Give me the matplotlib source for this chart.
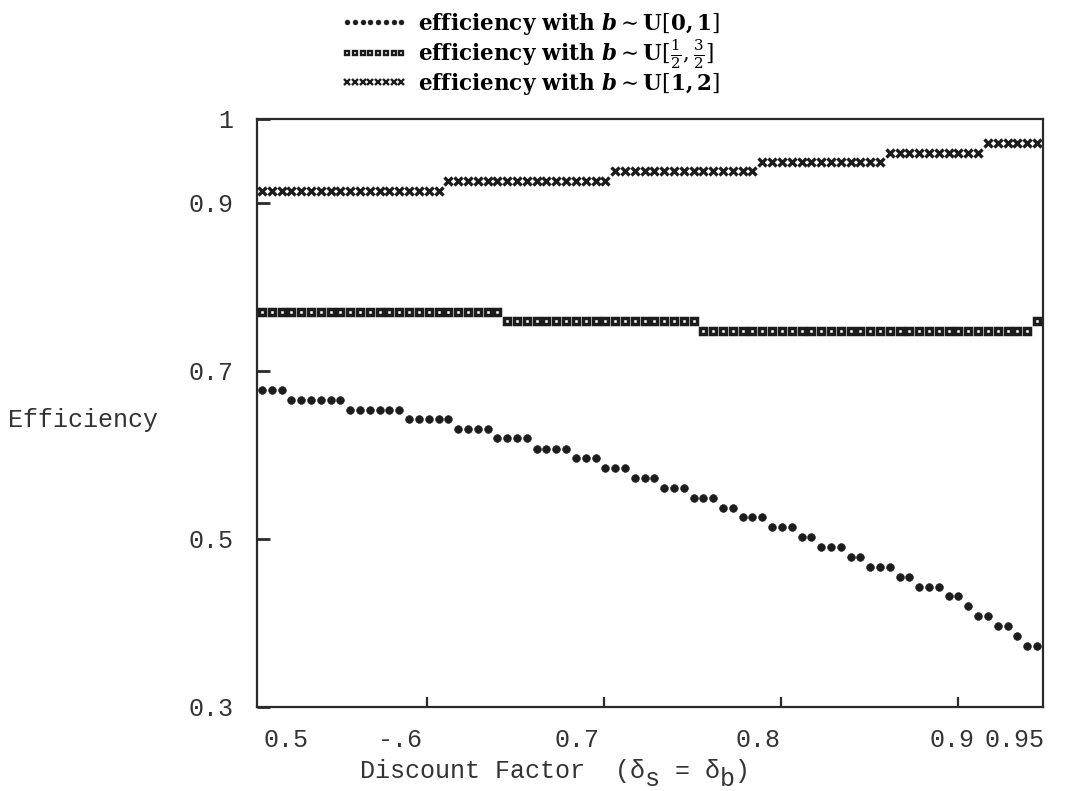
import numpy as np
import matplotlib
matplotlib.use("Agg")
import matplotlib.pyplot as plt
from matplotlib.font_manager import FontProperties
from matplotlib.lines import Line2D

# ---------------- data ----------------
n_points = 80
x_first, x_last = 0.5068, 0.9446          # discount factor grid ends

dots_levels = [0.677, 0.6655, 0.654, 0.643, 0.6315, 0.620, 0.6075, 0.596, 0.584,
               0.573, 0.561, 0.549, 0.537, 0.526, 0.514, 0.502, 0.491, 0.479,
               0.467, 0.455, 0.443, 0.432, 0.420, 0.408, 0.396, 0.385, 0.373]
dots_counts = [3, 6, 6, 5, 4, 4, 4, 3, 3, 3, 3, 3, 2, 3, 3, 2, 3, 2, 3, 2, 3, 2,
               1, 2, 2, 1, 2]

square_levels = [0.770, 0.760, 0.748, 0.760]
square_counts = [25, 20, 34, 1]

cross_levels = [0.914, 0.926, 0.938, 0.949, 0.960, 0.972]
cross_counts = [19, 17, 15, 13, 10, 6]

legend_labels = [r"efficiency with $\mathbfit{b} \sim \mathbf{U}[\mathbf{0,1}]$",
                 r"efficiency with $\mathbfit{b} \sim \mathbf{U}[\frac{1}{2},\frac{3}{2}]$",
                 r"efficiency with $\mathbfit{b} \sim \mathbf{U}[\mathbf{1,2}]$"]

y_ticks = [0.3, 0.5, 0.7, 0.9, 1.0]
y_ticklabels = ["0.3", "0.5", "0.7", "0.9", "1"]
x_tickmarks = [0.6, 0.7, 0.8, 0.9]
x_ticklabels = ["0.5", "-.6", "0.7", "0.8", "0.9", "0.95"]
x_label_pos = [0.5202, 0.5848, 0.6848, 0.7870, 0.8965, 0.9320]

# ---------------- build series ----------------
x = np.linspace(x_first, x_last, n_points)
y_dots = np.repeat(dots_levels, dots_counts)
y_squares = np.repeat(square_levels, square_counts)
y_cross = np.repeat(cross_levels, cross_counts)

plt.rcParams['mathtext.fontset'] = 'dejavuserif'
W, H = 1071, 791
fig = plt.figure(figsize=(W / 100, H / 100), dpi=100)
ax = fig.add_axes([257 / W, 1 - 707 / H, (1043 - 257) / W, (707 - 119) / H])

ink = '#1c1c1c'
txt = '#333333'
mono = 'Liberation Mono'
tick_fs = 18

ax.plot(x, y_dots, linestyle='none', marker='o', ms=5.6, mfc=ink, mec=ink, mew=0.4)
ax.plot(x, y_squares, linestyle='none', marker='s', ms=4.4, mfc='white', mec=ink, mew=2.5)
ax.plot(x, y_cross, linestyle='none', marker='x', ms=5.6, mec=ink, mew=2.4)

ax.set_xlim(0.504, 0.948)
ax.set_ylim(0.3, 1.0)

for s in ax.spines.values():
    s.set_linewidth(1.6)
    s.set_color('#2a2a2a')

# y axis ticks
ax.set_yticks(y_ticks, labels=y_ticklabels)
ax.tick_params(axis='y', direction='in', length=9, width=2, color='#2a2a2a', pad=17,
               labelsize=tick_fs, labelcolor=txt)
for lab in ax.get_yticklabels():
    lab.set_fontfamily(mono)

# x axis: tick marks (unlabelled) and typed labels at their own positions
ax.set_xticks(x_tickmarks, labels=[""] * len(x_tickmarks))
ax.tick_params(axis='x', which='major', direction='in', length=7, width=1.6, color='#2a2a2a')
ax.set_xticks(x_label_pos, labels=x_ticklabels, minor=True)
ax.tick_params(axis='x', which='minor', length=0, pad=15, labelsize=tick_fs, labelcolor=txt)
for lab in ax.get_xticklabels(minor=True):
    lab.set_fontfamily(mono)

# y label
fig.text(8 / W, 1 - 420 / H, "Efficiency", fontfamily=mono, fontsize=tick_fs,
         color=txt, ha='left', va='center')

# x label: monospace pieces, subscripts lowered
x0_px = 360
base_y = 1 - 771 / H
char_w = 0.6 * tick_fs * 100 / 72
pieces = [(0, "Discount Factor  (δ", 0), (19, "s", 8), (21, "=", 0),
          (23, "δ", 0), (24, "b", 8), (25, ")", 0)]
for idx, s_, drop in pieces:
    fig.text((x0_px + idx * char_w) / W, base_y - drop / H, s_, fontfamily=mono,
             fontsize=tick_fs, color=txt, ha='left', va='center')

# legend above the axes (proxy handles sized like the printed key)
leg_h = [Line2D([], [], linestyle='none', marker='o', ms=3.6, mfc=ink, mec=ink, mew=0.3),
         Line2D([], [], linestyle='none', marker='s', ms=3.0, mfc='white', mec=ink, mew=1.7),
         Line2D([], [], linestyle='none', marker='x', ms=3.8, mec=ink, mew=1.7)]
leg_font = FontProperties(family='DejaVu Serif', weight='bold', size=15.5)
fig.legend(leg_h, legend_labels, loc='upper left',
           bbox_to_anchor=(328 / W, 1 + 2 / H), frameon=False, numpoints=8,
           handlelength=3.1, handletextpad=0.5, labelspacing=0.0,
           prop=leg_font, borderpad=0.1)

fig.savefig("out.png", dpi=100)
